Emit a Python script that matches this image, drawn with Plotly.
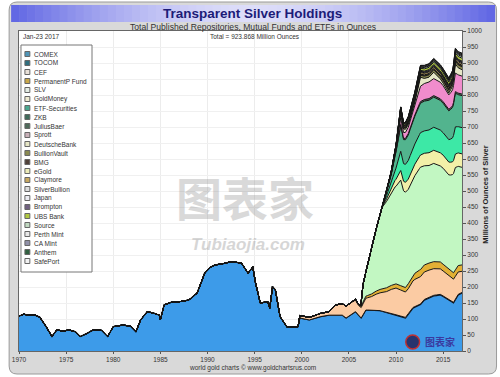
import plotly.graph_objects as go

# ---------------- data (millions of ounces) ----------------
comex_years = [1970.0, 1970.5, 1971.0, 1971.7, 1972.2, 1972.8, 1973.5, 1974.0, 1974.7, 1975.3,
               1976.0, 1976.5, 1977.2, 1977.9, 1978.7, 1979.4, 1980.0, 1981.0, 1981.8, 1982.4,
               1982.9, 1983.6, 1984.3, 1984.9, 1985.0, 1985.4, 1986.3, 1987.0, 1988.0, 1988.9,
               1989.7, 1990.3, 1990.8, 1991.5, 1992.5, 1993.6, 1994.3, 1994.8, 1995.1, 1995.6,
               1996.4, 1996.6, 1996.9, 1997.2, 1997.7, 1998.4, 1999.6, 1999.8, 2000.8, 2001.9,
               2002.9, 2004.3, 2004.7, 2005.7, 2006.3, 2006.8, 2008.1, 2009.0, 2009.9, 2011.0,
               2011.8, 2012.6, 2013.0, 2014.0, 2014.7, 2015.3, 2015.8, 2016.1, 2016.6, 2017.0]
comex = [109, 115, 112, 112, 106, 80, 45, 66, 62, 66,
         60, 45, 55, 66, 66, 45, 76, 81, 78, 60,
         97, 123, 118, 112, 97, 144, 154, 154, 159, 181,
         243, 262, 269, 272, 279, 275, 243, 263, 212, 150,
         154, 134, 201, 191, 107, 76, 75, 103, 97, 107,
         112, 112, 103, 123, 103, 128, 128, 120, 112, 103,
         134, 145, 159, 172, 175, 165, 154, 150, 175, 181]

small_years = [2008.5, 2010.0, 2011.5, 2013.0, 2015.0, 2017.0]
tocom = [0, 2, 2, 2, 2, 2]

cef_years = [1999.7, 1999.8, 2001.0, 2002.0, 2002.9, 2003.5, 2004.0, 2005.0, 2005.7, 2006.0,
             2007.4, 2008.4, 2009.0, 2009.9, 2011.3, 2012.0, 2013.3, 2014.3, 2015.0, 2015.8,
             2016.6, 2017.0]
cef = [0, 8, 8, 10, 11, 30, 35, 38, 36, 30,
       42, 57, 65, 84, 78, 85, 86, 82, 78, 74,
       70, 66]

pfund_years = [2005.0, 2006.0, 2007.0, 2008.0, 2009.0, 2010.0, 2011.0, 2011.8, 2012.5, 2013.5,
               2014.5, 2015.5, 2016.5, 2017.0]
pfund = [0, 4, 7, 10, 12, 13, 14, 18, 22, 22, 22, 20, 20, 20]

slv_years = [2006.25, 2006.5, 2006.8, 2007.1, 2007.4, 2007.9, 2008.3, 2008.5, 2009.0, 2009.5,
             2010.0, 2010.5, 2010.8, 2011.3, 2011.7, 2012.0, 2012.6, 2013.0, 2013.5, 2014.0,
             2014.5, 2015.0, 2015.6, 2016.0, 2016.3, 2016.6, 2017.0]
slv = [0, 55, 76, 112, 142, 195, 231, 254, 270, 290,
       305, 330, 300, 295, 300, 305, 320, 310, 305, 307,
       300, 300, 295, 305, 320, 310, 305]

late_years = [2008.5, 2009.0, 2009.5, 2010.0, 2010.5, 2010.8, 2011.3, 2011.7, 2012.0, 2012.6,
              2013.0, 2013.5, 2014.0, 2014.5, 2015.0, 2015.6, 2016.0, 2016.3, 2016.6, 2017.0]
goldmoney = [0, 8, 15, 22, 30, 30, 32, 34, 36, 38, 39, 40, 41, 41, 41, 40, 40, 42, 42, 42]
etf_securities = [0, 10, 20, 35, 60, 55, 58, 60, 63, 70, 70, 71, 72, 72, 70, 70, 75, 85, 82, 82]
zkb = [0, 10, 22, 50, 80, 75, 80, 84, 87, 92, 93, 93, 94, 93, 92, 90, 95, 105, 100, 100]
juliusbaer = [0, 0, 2, 3, 4, 4, 4, 4, 4, 5, 5, 5, 5, 5, 5, 5, 5, 5, 5, 5]
sprott = [0, 0, 0, 6, 20, 18, 20, 25, 32, 48, 50, 52, 53, 53, 50, 45, 50, 58, 57, 56]
deutschebank = [0, 2, 2, 3, 19, 11, 8, 7, 8, 28, 16, 15, 20, 12, 8, 6, 12, 28, 22, 20]

bullionvault = [0, 3, 5, 7, 8, 9]
bmg = [0, 1, 2, 3, 4, 4]
egold = [0, 1, 1, 1, 1, 1]
claymore = [0, 2, 4, 5, 5, 5]
silverbullion = [0, 0, 1, 2, 2, 3]
japan = [0, 1, 2, 2, 2, 2]
brompton = [0, 0, 2, 3, 3, 3]
ubs_bank = [0, 2, 5, 7, 8, 9]
source = [0, 0, 2, 4, 4, 5]
perth_mint = [0, 0, 1, 2, 2, 3]
ca_mint = [0, 0, 2, 3, 3, 3]
anthem = [0, 0, 0, 1, 2, 3]
safeport = [0, 0, 0, 1, 1, 2]

x_ticks = [1970, 1975, 1980, 1985, 1990, 1995, 2000, 2005, 2010, 2015]

series = [
    ("COMEX", comex_years, comex, "#3d9be9", "#4f95b8"),
    ("TOCOM", small_years, tocom, "#2f6f7f", "#2f6f7f"),
    ("CEF", cef_years, cef, "#fbcba3", "#e8e0d8"),
    ("PermanentP Fund", pfund_years, pfund, "#e2b035", "#c9a84a"),
    ("SLV", slv_years, slv, "#c2f7c2", "#e4ece4"),
    ("GoldMoney", late_years, goldmoney, "#f2f0a8", "#eeead0"),
    ("ETF-Securities", late_years, etf_securities, "#3de8a6", "#4aa890"),
    ("ZKB", late_years, zkb, "#52b48e", "#3e6a5a"),
    ("JuliusBaer", late_years, juliusbaer, "#4e6a5a", "#4e6a5a"),
    ("Sprott", late_years, sprott, "#f08ccc", "#c8b0b8"),
    ("DeutscheBank", late_years, deutschebank, "#e6e6c6", "#e6e6c6"),
    ("BullionVault", small_years, bullionvault, "#8a8a50", "#8a8a50"),
    ("BMG", small_years, bmg, "#504038", "#504038"),
    ("eGold", small_years, egold, "#ecebb8", "#ecebb8"),
    ("Claymore", small_years, claymore, "#c8a860", "#c8a860"),
    ("SilverBullion", small_years, silverbullion, "#dcdcdc", "#dcdcdc"),
    ("Japan", small_years, japan, "#ececf2", "#ececf2"),
    ("Brompton", small_years, brompton, "#706080", "#706080"),
    ("UBS Bank", small_years, ubs_bank, "#b0c840", "#b0c840"),
    ("Source", small_years, source, "#c0d8c0", "#c0d8c0"),
    ("Perth Mint", small_years, perth_mint, "#e8e8e8", "#e8e8e8"),
    ("CA Mint", small_years, ca_mint, "#9090a8", "#9090a8"),
    ("Anthem", small_years, anthem, "#306040", "#306040"),
    ("SafePort", small_years, safeport, "#f2f2f2", "#f2f2f2"),
]

# ---------------- figure ----------------
W, H = 500, 377
L, R, T, B = 13, 462, 31, 351


def px(x):
    return (x - L) / (R - L)


def py(y):
    return (B - y) / (B - T)


FONT = "Arial, Liberation Sans, sans-serif"
fig = go.Figure()

for i, (name, xs, ys, fill, _sw) in enumerate(series):
    fig.add_trace(go.Scatter(
        x=xs, y=ys, name=name, mode="lines", stackgroup="one",
        stackgaps="interpolate",
        line=dict(color="#0c1420" if i == 0 else "#151515", width=1.2 if i == 0 else 1.0),
        fillcolor=fill, showlegend=False, hoverinfo="skip"))

shapes = []
# outer rounded gray frame
x0, x1, y0, y1, r = px(3), px(497), py(374), py(2), 8
rx, ry = r / (R - L), r / (B - T)
path = (f"M {x0+rx},{y1} L {x1-rx},{y1} Q {x1},{y1} {x1},{y1-ry} "
        f"L {x1},{y0+ry} Q {x1},{y0} {x1-rx},{y0} L {x0+rx},{y0} "
        f"Q {x0},{y0} {x0},{y0+ry} L {x0},{y1-ry} Q {x0},{y1} {x0+rx},{y1} Z")
shapes.append(dict(type="path", path=path, xref="paper", yref="paper",
                   fillcolor="#d9d9d9", line=dict(color="#9a9a9a", width=1), layer="below"))
# title bar gradient (horizontal)
n = 60
bx0, bx1 = 5, 495
for k in range(n):
    t = k / (n - 1)
    w = 1 - abs(2 * t - 1) ** 1.6
    c0, c1 = (98, 104, 228), (222, 222, 250)
    col = tuple(int(c0[j] + (c1[j] - c0[j]) * w) for j in range(3))
    xa = bx0 + (bx1 - bx0) * k / n
    xb = bx0 + (bx1 - bx0) * (k + 1) / n + 0.6
    shapes.append(dict(type="rect", xref="paper", yref="paper",
                       x0=px(xa), x1=px(xb), y0=py(22), y1=py(5),
                       fillcolor="rgb(%d,%d,%d)" % col, line=dict(width=0), layer="below"))
# plot area white background
shapes.append(dict(type="rect", xref="paper", yref="paper", x0=0, x1=1, y0=0, y1=1,
                   fillcolor="white", line=dict(width=0), layer="below"))
# legend box
lg_top, lg_bot, lg_l, lg_r = 45, 272, 15, 87
shapes.append(dict(type="rect", xref="paper", yref="paper",
                   x0=px(lg_l), x1=px(lg_r), y0=py(lg_bot), y1=py(lg_top),
                   fillcolor="white", line=dict(color="#777777", width=1), layer="above"))
# small logo mark (bottom right)
shapes.append(dict(type="circle", xref="paper", yref="paper",
                   x0=px(405), x1=px(419), y0=py(349), y1=py(335),
                   fillcolor="#27346e", line=dict(color="#c03030", width=1.5), layer="above"))

annotations = []
for i, (name, xs, ys, fill, sw) in enumerate(series):
    yc = 54 + 9 * i
    shapes.append(dict(type="rect", xref="paper", yref="paper",
                       x0=px(19), x1=px(24), y0=py(yc + 2.5), y1=py(yc - 2.5),
                       fillcolor=sw, line=dict(color="#666666", width=1), layer="above"))
    annotations.append(dict(text=name, x=px(26.5), y=py(yc), xref="paper", yref="paper",
                            xanchor="left", yanchor="middle", showarrow=False,
                            font=dict(family=FONT, size=6.5, color="#333333")))

# texts
annotations += [
    dict(text="<b>Transparent Silver Holdings</b>", x=px(250), y=py(13.5), xref="paper", yref="paper",
         showarrow=False, xanchor="center", yanchor="middle",
         font=dict(family=FONT, size=13.5, color="#1c1c78")),
    dict(text="Total Published Repositories, Mutual Funds and ETFs in Ounces", x=px(250), y=py(27),
         xref="paper", yref="paper", showarrow=False, xanchor="center", yanchor="middle",
         font=dict(family=FONT, size=8.6, color="#333333")),
    dict(text="Jan-23 2017", x=px(15), y=py(36.5), xref="paper", yref="paper", showarrow=False,
         xanchor="left", yanchor="middle", font=dict(family=FONT, size=6.5, color="#333333")),
    dict(text="Total = 923.868 Million Ounces", x=px(252), y=py(36.5), xref="paper", yref="paper",
         showarrow=False, xanchor="center", yanchor="middle",
         font=dict(family=FONT, size=6.5, color="#333333")),
    dict(text="world gold charts \u00a9 www.goldchartsrus.com", x=px(250), y=py(367.5), xref="paper",
         yref="paper", showarrow=False, xanchor="center", yanchor="middle",
         font=dict(family=FONT, size=6.5, color="#333333")),
    dict(text="<b>Millions of Ounces of Silver</b>", x=px(485), y=py(195), xref="paper", yref="paper",
         showarrow=False, textangle=-90, xanchor="center", yanchor="middle",
         font=dict(family=FONT, size=7.5, color="#222222")),
    # watermark
    dict(text="<b>图表家</b>", x=px(242), y=py(196), xref="paper", yref="paper", showarrow=False,
         xanchor="center", yanchor="middle", opacity=0.32,
         font=dict(family="Noto Sans CJK SC", size=46, color="#8a8a8a")),
    dict(text="<b><i>Tubiaojia.com</i></b>", x=px(245), y=py(244), xref="paper", yref="paper",
         showarrow=False, xanchor="center", yanchor="middle", opacity=0.3,
         font=dict(family=FONT, size=17, color="#7a7a7a")),
    dict(text="<b>图表家</b>", x=px(440), y=py(341), xref="paper", yref="paper", showarrow=False,
         xanchor="center", yanchor="middle",
         font=dict(family="Noto Sans CJK SC", size=10, color="#3a3aa0")),
]

fig.update_layout(
    width=W, height=H, margin=dict(l=L, r=W - R, t=T, b=H - B, pad=0),
    paper_bgcolor="white", plot_bgcolor="white",
    shapes=shapes, annotations=annotations, showlegend=False,
    font=dict(family=FONT, size=7, color="#333333"),
    xaxis=dict(range=[1970, 2017], tickvals=x_ticks, ticks="outside", ticklen=2,
               tickcolor="#555555", showgrid=True, gridcolor="#ececec", gridwidth=1,
               showline=True, linecolor="#666666", mirror=True, zeroline=False,
               tickfont=dict(family=FONT, size=6.5, color="#333333")),
    yaxis=dict(range=[0, 1000], dtick=50, side="right", ticks="outside", ticklen=3,
               tickcolor="#555555", showgrid=True, gridcolor="#f0f0f0", gridwidth=1,
               showline=True, linecolor="#666666", mirror=True, zeroline=False,
               tickfont=dict(family=FONT, size=6.5, color="#333333")),
)

fig.write_html("out.html", config={"displayModeBar": False, "staticPlot": True},
               post_script="document.body.style.margin='0';document.body.style.overflow='hidden';")
